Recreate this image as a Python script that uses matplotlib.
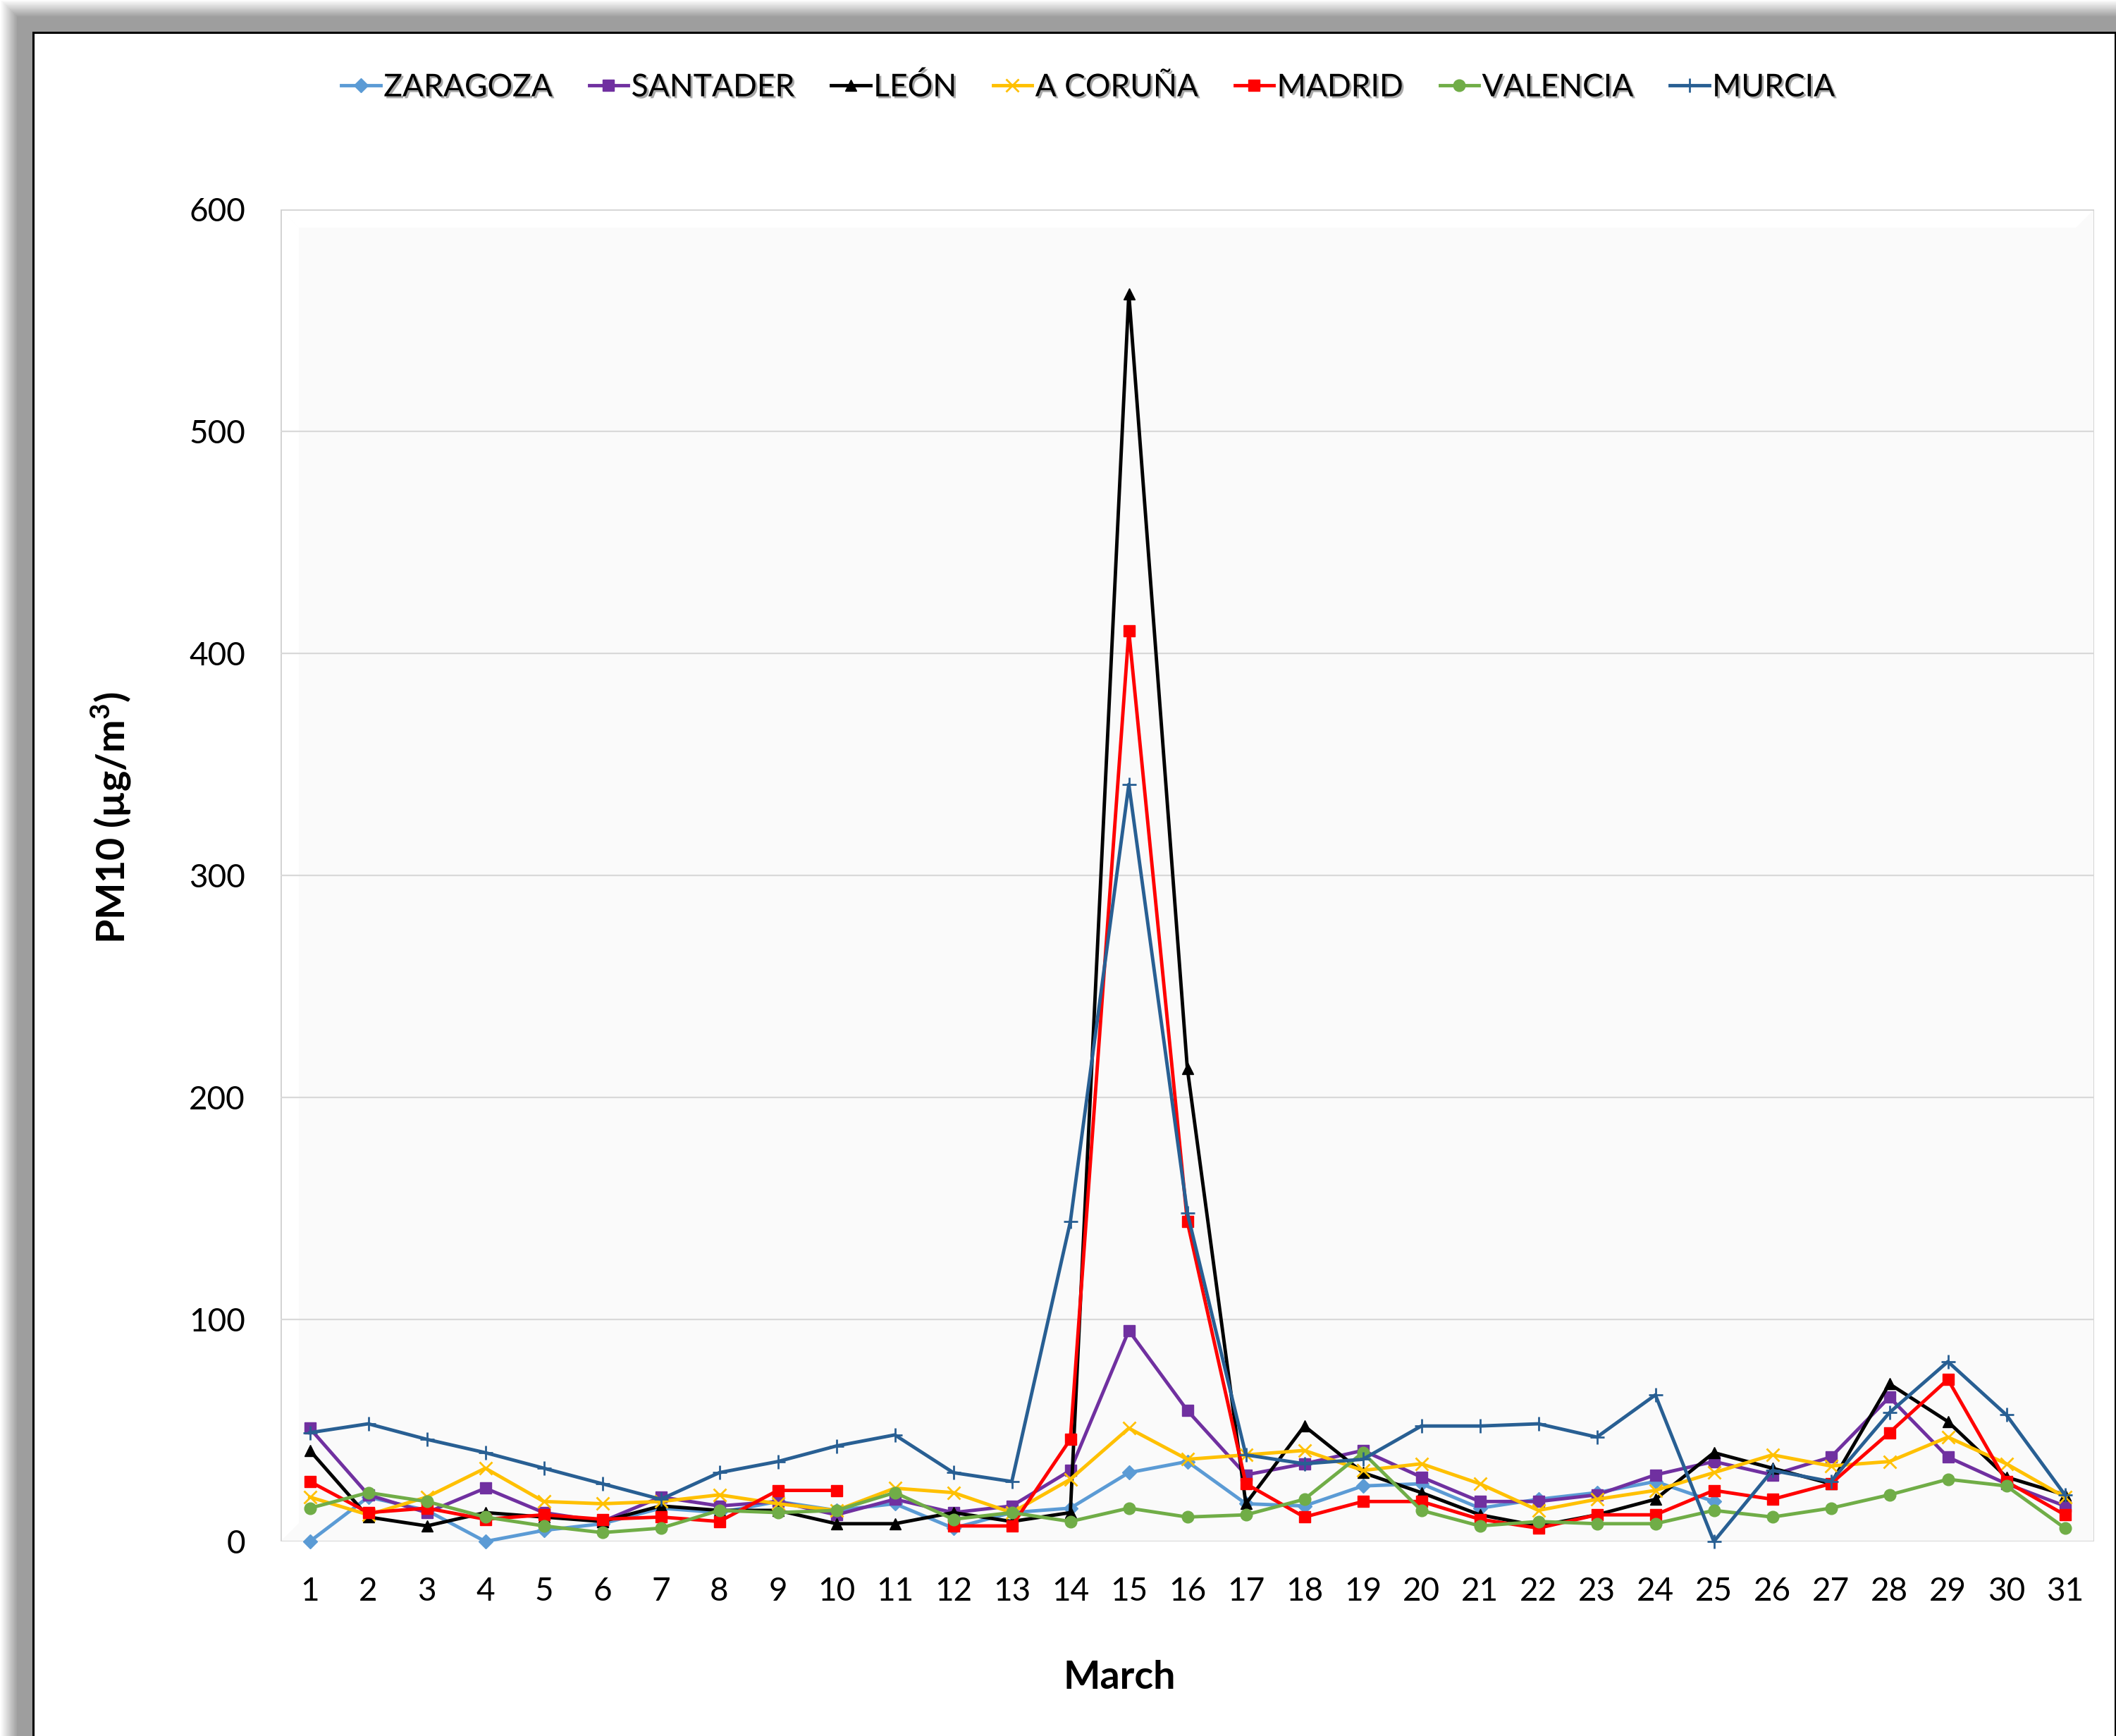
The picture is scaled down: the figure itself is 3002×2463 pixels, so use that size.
import numpy as np
import matplotlib
matplotlib.use('Agg')
import matplotlib.pyplot as plt
import matplotlib.patheffects as pe
from matplotlib.patches import Rectangle, Polygon
from matplotlib.colors import LinearSegmentedColormap

plt.rcParams['font.family'] = ['Lato', 'DejaVu Sans']
plt.rcParams['mathtext.fontset'] = 'custom'
plt.rcParams['mathtext.rm'] = 'Lato'
plt.rcParams['mathtext.bf'] = 'Lato:bold'

nan = np.nan
days = list(range(1, 32))

# daily PM10 values, March
zaragoza = [0, 20, 14, 0, 5, 8, 15, 13, 18, 14, 17, 6, 13, 15, 31, 36, 17, 16, 25, 26,
            15, 19, 22, 27, 18, nan, nan, nan, nan, nan, nan]
santander = [51, 21, 13, 24, 13, 9, 20, 16, 18, 12, 19, 13, 16, 32, 95, 59, 30, 35, 41, 29,
             18, 18, 21, 30, 36, 30, 38, 65, 38, 26, 16]
leon = [41, 11, 7, 13, 11, 9, 16, 14, 14, 8, 8, 13, 9, 13, 562, 213, 17, 52, 31, 22,
        12, 7, 12, 19, 40, 33, 26, 71, 54, 29, 21]
coruna = [20, 12, 20, 33, 18, 17, 18, 21, 17, 14, 24, 22, 13, 28, 51, 37, 39, 41, 32, 35,
          26, 14, 19, 23, 31, 39, 34, 36, 47, 35, 20]
madrid = [27, 13, 15, 10, 12, 10, 11, 9, 23, 23, nan, 7, 7, 46, 410, 144, 26, 11, 18, 18,
          10, 6, 12, 12, 23, 19, 26, 49, 73, 27, 12]
valencia = [15, 22, 18, 11, 7, 4, 6, 14, 13, 14, 22, 10, 13, 9, 15, 11, 12, 19, 40, 14,
            7, 9, 8, 8, 14, 11, 15, 21, 28, 25, 6]
murcia = [49, 53, 46, 40, 33, 26, 19, 31, 36, 43, 48, 31, 27, 144, 341, 148, 39, 35, 37, 52,
          52, 53, 47, 66, 0, 32, 27, 58, 81, 57, 21]

names = ['ZARAGOZA', 'SANTADER', 'LEÓN', 'A CORUÑA', 'MADRID', 'VALENCIA', 'MURCIA']
series = [zaragoza, santander, leon, coruna, madrid, valencia, murcia]
colors = ['#5B9BD5', '#7030A0', '#000000', '#FFC000', '#FF0000', '#70AD47', '#285F93']
markers = ['D', 's', '^', 'x', 's', 'o', '+']
msizes = [10, 12, 12, 13, 12, 12, 15]

fig = plt.figure(figsize=(30.02, 24.63), dpi=100)

# outer chart frame with shadow band on top/left
frame = fig.add_axes([0, 0, 1, 1], zorder=-5)
frame.set_xlim(0, 3002)
frame.set_ylim(2463, 0)
frame.axis('off')
steps = 12
for k in range(steps):
    t = (k + 1) / steps
    c = 1 - t * (1 - 0x9E / 255)
    frame.add_patch(Rectangle((2 + 2 * k, 1 + 2 * k), 3100, 2600,
                              facecolor=(c, c, c), edgecolor='none'))
frame.add_patch(Rectangle((47, 46), 2954, 2500, facecolor='white',
                          edgecolor='black', linewidth=2.2))

pos = [398 / 3002, 276 / 2463, 2573 / 3002, 1890 / 2463]

# bevelled plot area
W, H, b = 2573, 1890, 26
bg = fig.add_axes(pos, zorder=0)
bg.add_patch(Rectangle((0, 0), W, H, facecolor='#FAFAFA', edgecolor='none'))
shade = LinearSegmentedColormap.from_list(
    'shade', ['#7C7C7C', '#A8A8A8', '#D6D6D6', '#F0F0F0', '#FAFAFA'])
im = bg.imshow(np.linspace(0, 1, 64).reshape(-1, 1), cmap=shade,
               extent=(0, W, 0, b), origin='lower', aspect='auto')
im.set_clip_path(Polygon([(0, 0), (W, 0), (W - b, b), (b, b)], transform=bg.transData))
im2 = bg.imshow(np.linspace(1, 0, 64).reshape(1, -1), cmap=shade,
                extent=(W - b, W, 0, H), origin='lower', aspect='auto')
im2.set_clip_path(Polygon([(W, 0), (W, H), (W - b, H - b), (W - b, b)], transform=bg.transData))
bg.add_patch(Polygon([(0, H), (W, H), (W - b, H - b), (b, H - b)],
                     facecolor='white', edgecolor='none'))
bg.add_patch(Polygon([(0, 0), (b, b), (b, H - b), (0, H)],
                     facecolor='white', edgecolor='none'))
bg.add_patch(Rectangle((0, 0), W, H, fill=False, edgecolor='#D0D0D0', linewidth=2))
bg.set_xlim(0, W)
bg.set_ylim(0, H)
bg.axis('off')

ax = fig.add_axes(pos, zorder=1)
ax.patch.set_visible(False)
for s in ax.spines.values():
    s.set_visible(False)

handles = []
for i, (name, vals) in enumerate(zip(names, series)):
    thin = markers[i] in ('x', '+')
    h, = ax.plot(days, vals, color=colors[i], lw=3.5, marker=markers[i],
                 ms=msizes[i], mew=2.0 if thin else 1,
                 mec=colors[i], mfc=colors[i], label=name,
                 clip_on=False, zorder=3 + i)
    handles.append(h)

ax.set_xlim(0.5, 31.5)
ax.set_ylim(0, 600)
ax.set_yticks(range(0, 601, 100))
ax.set_xticks(days)
ax.set_xticklabels([str(d) for d in days])
ax.yaxis.grid(True, color='#D9D9D9', lw=1.6)
ax.set_axisbelow(True)
ax.tick_params(axis='both', length=0, labelsize=33)
ax.tick_params(axis='y', pad=36)
ax.tick_params(axis='x', pad=36)

fig.text(157 / 3002, 0.529, r'PM10 (µg/m$^{\mathbf{3}}$)', rotation=90,
         fontsize=40, fontweight='bold', ha='center', va='center')
fig.text(1588 / 3002, 0.0337, 'March', fontsize=40, fontweight='bold',
         ha='center', va='center')

lgd = fig.legend(handles=handles, loc='center', bbox_to_anchor=(0.5143, 0.9497),
                 ncol=7, frameon=False, fontsize=32, handlelength=1.25,
                 handletextpad=0.1, columnspacing=1.15)
for t in lgd.get_texts():
    t.set_path_effects([pe.SimplePatchShadow(offset=(2, -2), shadow_rgbFace='#555555', alpha=0.5),
                        pe.Normal()])

fig.savefig('out.png', dpi=100)
